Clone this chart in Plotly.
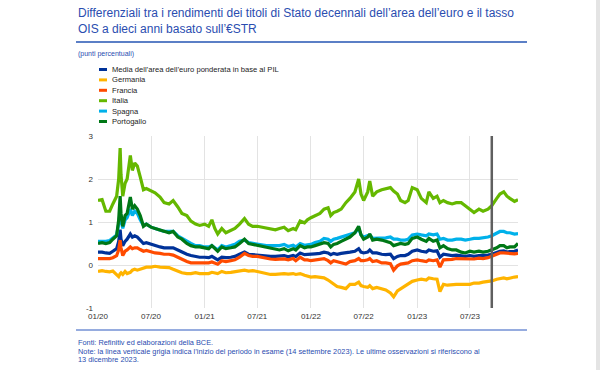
import plotly.graph_objects as go

dates = [
    "2020-01-01","2020-01-15","2020-01-28","2020-02-10","2020-02-21","2020-03-05","2020-03-12","2020-03-17",
    "2020-03-20","2020-03-26","2020-04-03","2020-04-10","2020-04-21","2020-04-28","2020-05-06","2020-05-15",
    "2020-05-25","2020-06-05","2020-06-15","2020-07-01","2020-07-15","2020-08-01","2020-08-15","2020-09-01",
    "2020-09-15","2020-10-01","2020-10-15","2020-11-01","2020-11-15","2020-12-01","2020-12-15",
    "2021-01-01","2021-01-15","2021-01-26","2021-02-05","2021-02-15","2021-03-01","2021-03-15","2021-04-01",
    "2021-04-15","2021-05-01","2021-05-18","2021-06-01","2021-06-15","2021-07-01","2021-07-15","2021-08-01",
    "2021-08-15","2021-09-01","2021-09-15","2021-10-01","2021-10-15","2021-11-01","2021-11-10","2021-11-25",
    "2021-12-10","2021-12-20",
    "2022-01-01","2022-01-15","2022-02-01","2022-02-15","2022-03-01","2022-03-10","2022-03-20","2022-04-01",
    "2022-04-15","2022-05-01","2022-05-15","2022-06-01","2022-06-14","2022-06-22","2022-07-01","2022-07-15",
    "2022-07-22","2022-08-01","2022-08-15","2022-09-01","2022-09-15","2022-10-01","2022-10-12","2022-10-25",
    "2022-11-05","2022-11-20","2022-12-01","2022-12-15",
    "2023-01-01","2023-01-15","2023-02-01","2023-02-10","2023-02-25","2023-03-10","2023-03-20","2023-04-01",
    "2023-04-15","2023-05-01","2023-05-15","2023-06-01","2023-06-15","2023-07-01","2023-07-15","2023-08-01",
    "2023-08-15","2023-09-01","2023-09-14","2023-10-01","2023-10-12","2023-10-25","2023-11-05","2023-11-15",
    "2023-12-01","2023-12-13",
]

italia = [
    1.50,1.52,1.25,1.25,1.42,1.60,2.00,2.72,2.10,1.60,1.90,2.00,2.55,2.20,2.37,2.30,
    2.05,1.75,1.78,1.72,1.68,1.58,1.45,1.42,1.50,1.35,1.20,1.15,1.02,0.95,0.92,
    0.95,0.90,1.05,0.85,0.72,0.85,0.75,0.80,0.85,0.95,1.08,0.95,0.90,0.90,0.88,0.87,
    0.85,0.82,0.85,0.88,0.80,0.85,0.82,1.02,0.98,1.05,
    1.10,1.15,1.20,1.30,1.33,1.15,1.22,1.25,1.30,1.45,1.55,1.70,2.00,1.65,1.50,1.70,
    1.95,1.60,1.70,1.75,1.78,1.80,1.72,1.65,1.50,1.45,1.50,1.80,
    1.75,1.55,1.45,1.70,1.55,1.60,1.45,1.50,1.45,1.42,1.45,1.45,1.38,1.30,1.22,1.30,
    1.25,1.30,1.38,1.55,1.65,1.70,1.60,1.55,1.48,1.52,
]
portogallo = [
    0.50,0.52,0.50,0.52,0.60,0.68,1.05,1.60,1.20,0.90,1.15,1.20,1.58,1.30,1.38,1.30,
    1.15,0.90,0.95,0.88,0.85,0.82,0.78,0.75,0.78,0.65,0.60,0.50,0.45,0.42,0.42,
    0.40,0.38,0.45,0.38,0.32,0.42,0.38,0.40,0.42,0.50,0.60,0.50,0.48,0.45,0.42,0.40,
    0.38,0.37,0.35,0.38,0.33,0.38,0.35,0.45,0.40,0.42,
    0.42,0.45,0.48,0.52,0.50,0.42,0.48,0.50,0.55,0.60,0.65,0.75,0.90,0.70,0.60,0.65,
    0.72,0.58,0.60,0.58,0.55,0.52,0.45,0.48,0.50,0.48,0.50,0.62,
    0.65,0.60,0.55,0.62,0.55,0.58,0.40,0.45,0.38,0.35,0.35,0.30,0.28,0.32,0.30,0.32,
    0.30,0.32,0.35,0.40,0.45,0.45,0.40,0.42,0.42,0.50,
]
spagna = [
    0.55,0.55,0.55,0.57,0.62,0.70,0.95,1.25,1.05,0.85,1.05,1.10,1.30,1.15,1.25,1.20,
    1.05,0.92,0.95,0.88,0.85,0.82,0.78,0.78,0.78,0.68,0.62,0.55,0.50,0.45,0.45,
    0.42,0.42,0.45,0.40,0.35,0.45,0.42,0.45,0.48,0.55,0.58,0.52,0.50,0.48,0.47,0.45,
    0.45,0.44,0.45,0.48,0.43,0.46,0.42,0.50,0.46,0.47,
    0.48,0.52,0.55,0.62,0.60,0.55,0.60,0.62,0.65,0.68,0.72,0.75,0.85,0.70,0.65,0.68,
    0.70,0.62,0.62,0.62,0.63,0.65,0.60,0.60,0.58,0.58,0.60,0.70,
    0.72,0.70,0.68,0.72,0.70,0.72,0.60,0.62,0.58,0.58,0.60,0.60,0.58,0.60,0.62,0.62,
    0.63,0.65,0.68,0.75,0.78,0.78,0.75,0.75,0.72,0.73,
]
media = [
    0.30,0.30,0.28,0.27,0.32,0.38,0.55,0.82,0.60,0.45,0.55,0.60,0.72,0.65,0.68,0.65,
    0.58,0.50,0.52,0.48,0.45,0.42,0.40,0.40,0.40,0.35,0.30,0.25,0.22,0.20,0.18,
    0.18,0.17,0.20,0.15,0.12,0.18,0.17,0.18,0.20,0.25,0.30,0.25,0.24,0.23,0.22,0.20,
    0.20,0.20,0.21,0.22,0.19,0.22,0.20,0.28,0.24,0.25,
    0.25,0.26,0.27,0.30,0.28,0.24,0.27,0.25,0.27,0.28,0.30,0.32,0.38,0.30,0.28,0.30,
    0.35,0.28,0.28,0.25,0.24,0.25,0.15,0.20,0.22,0.22,0.25,0.32,
    0.35,0.32,0.30,0.35,0.32,0.33,0.18,0.25,0.23,0.22,0.23,0.22,0.20,0.22,0.20,0.22,
    0.22,0.23,0.25,0.30,0.32,0.33,0.30,0.31,0.32,0.35,
]
francia = [
    0.15,0.15,0.14,0.15,0.17,0.22,0.35,0.58,0.40,0.22,0.32,0.35,0.42,0.38,0.40,0.40,
    0.36,0.32,0.34,0.30,0.28,0.27,0.25,0.25,0.23,0.18,0.13,0.08,0.05,0.05,0.04,
    0.05,0.05,0.07,0.05,0.02,0.10,0.08,0.10,0.12,0.18,0.27,0.22,0.20,0.20,0.18,0.15,
    0.14,0.13,0.13,0.14,0.12,0.15,0.10,0.18,0.12,0.12,
    0.10,0.12,0.14,0.15,0.10,0.05,0.10,0.08,0.05,0.02,0.08,0.10,0.15,0.10,0.10,0.12,
    0.15,0.08,0.10,0.05,0.05,0.03,-0.12,-0.02,0.02,0.03,0.05,0.10,
    0.12,0.10,0.08,0.12,0.10,0.12,-0.05,0.12,0.12,0.13,0.15,0.15,0.14,0.15,0.14,0.16,
    0.15,0.17,0.20,0.25,0.28,0.28,0.27,0.27,0.26,0.27,
]
germania = [
    -0.15,-0.13,-0.15,-0.16,-0.14,-0.22,-0.27,-0.20,-0.18,-0.22,-0.15,-0.20,-0.17,-0.12,-0.10,-0.12,
    -0.10,-0.07,-0.05,-0.05,-0.03,-0.05,-0.05,-0.06,-0.10,-0.15,-0.18,-0.20,-0.20,-0.18,-0.20,
    -0.20,-0.20,-0.17,-0.18,-0.20,-0.15,-0.18,-0.17,-0.16,-0.15,-0.12,-0.14,-0.13,-0.15,-0.17,-0.20,
    -0.22,-0.22,-0.21,-0.20,-0.21,-0.20,-0.22,-0.20,-0.24,-0.25,
    -0.28,-0.27,-0.28,-0.30,-0.35,-0.40,-0.45,-0.50,-0.52,-0.55,-0.45,-0.45,-0.40,-0.48,-0.50,-0.52,
    -0.48,-0.55,-0.52,-0.55,-0.58,-0.65,-0.74,-0.60,-0.55,-0.50,-0.45,-0.38,
    -0.35,-0.33,-0.35,-0.30,-0.32,-0.33,-0.62,-0.45,-0.47,-0.45,-0.45,-0.45,-0.45,-0.45,-0.42,-0.42,
    -0.40,-0.38,-0.37,-0.33,-0.32,-0.30,-0.32,-0.30,-0.28,-0.27,
]

series_names = [
    "Media dell\u2019area dell\u2019euro ponderata in base al PIL",
    "Germania", "Francia", "Italia", "Spagna", "Portogallo",
]
series_values = [media, germania, francia, italia, spagna, portogallo]
series_colors = ["#003299", "#FFB400", "#FF4B00", "#65B800", "#00B1EA", "#007816"]

x_tick_vals = ["2020-01-01","2020-07-01","2021-01-01","2021-07-01","2022-01-01","2022-07-01","2023-01-01","2023-07-01"]
x_tick_text = ["01/20","07/20","01/21","07/21","01/22","07/22","01/23","07/23"]
y_tick_vals = [-1, 0, 1, 2, 3]
y_tick_text = ["-1", "0", "1", "2", "3"]
review_start = "2023-09-14"

title_lines = [
    "Differenziali tra i rendimenti dei titoli di Stato decennali dell\u2019area dell\u2019euro e il tasso",
    "OIS a dieci anni basato sull\u2019\u20acSTR",
]
unit_text = "(punti percentuali)"
footer_lines = [
    "Fonti: Refinitiv ed elaborazioni della BCE.",
    "Note: la linea verticale grigia indica l\u2019inizio del periodo in esame (14 settembre 2023). Le ultime osservazioni si riferiscono al",
    "13 dicembre 2023.",
]

W, H = 600, 370
L, R, T, B = 98, 82, 136, 62
PW, PH = W - L - R, H - T - B
FONT = "Arial, Liberation Sans, sans-serif"


def px(x):
    return (x - L) / PW


def py(y):
    return (H - B - y) / PH


fig = go.Figure()
for name, vals, col in zip(series_names, series_values, series_colors):
    fig.add_trace(go.Scatter(x=dates, y=vals, mode="lines", name=name,
                             line=dict(color=col, width=3.2), showlegend=False))

shapes = []
annotations = []

# vertical line: start of review period
shapes.append(dict(type="line", xref="x", yref="y", x0=review_start, x1=review_start,
                   y0=-1, y1=3, line=dict(color="#5F5F5F", width=2.5)))

# title
for i, t in enumerate(title_lines):
    annotations.append(dict(text=t, xref="paper", yref="paper", x=px(76), y=py(13 + 16 * i),
                            xanchor="left", yanchor="middle", showarrow=False,
                            font=dict(family=FONT, size=12, color="#2A4DB0")))
shapes.append(dict(type="line", xref="paper", yref="paper", x0=px(76), x1=px(527),
                   y0=py(42), y1=py(42), line=dict(color="#5B7FC6", width=2)))
annotations.append(dict(text=unit_text, xref="paper", yref="paper", x=px(76), y=py(54),
                        xanchor="left", yanchor="middle", showarrow=False,
                        font=dict(family=FONT, size=7, color="#2A4DB0")))

# legend (manual)
for i, (name, col) in enumerate(zip(series_names, series_colors)):
    yy = 69.5 + 10.4 * i
    shapes.append(dict(type="line", xref="paper", yref="paper", x0=px(99), x1=px(107),
                       y0=py(yy), y1=py(yy), line=dict(color=col, width=3)))
    annotations.append(dict(text=name, xref="paper", yref="paper", x=px(110), y=py(yy),
                            xanchor="left", yanchor="middle", showarrow=False,
                            font=dict(family=FONT, size=7.6, color="#222222")))

# bottom rule & footer
shapes.append(dict(type="line", xref="paper", yref="paper", x0=px(76), x1=px(527),
                   y0=py(330), y1=py(330), line=dict(color="#2F5BC0", width=1.2)))
for i, t in enumerate(footer_lines):
    annotations.append(dict(text=t, xref="paper", yref="paper", x=px(76), y=py(342.5 + 8.7 * i),
                            xanchor="left", yanchor="middle", showarrow=False,
                            font=dict(family=FONT, size=7.35, color="#2A4DB0")))

# right-side grey border
shapes.append(dict(type="rect", xref="paper", yref="paper", x0=px(596), x1=px(601),
                   y0=py(371), y1=py(-1), fillcolor="#E4E4E4", line=dict(width=0), layer="below"))

fig.update_layout(
    width=W, height=H,
    margin=dict(l=L, r=R, t=T, b=B, pad=0),
    paper_bgcolor="white", plot_bgcolor="white",
    font=dict(family=FONT, size=8, color="#333333"),
    showlegend=False,
    shapes=shapes, annotations=annotations,
    xaxis=dict(range=["2020-01-01", "2023-12-13"], tickvals=x_tick_vals, ticktext=x_tick_text,
               showgrid=True, gridcolor="#E3E3E3", gridwidth=1, zeroline=False, showline=False,
               ticks="", ticklabelstandoff=2, tickfont=dict(size=8, color="#333333")),
    yaxis=dict(range=[-1, 3], tickvals=y_tick_vals, ticktext=y_tick_text,
               showgrid=True, gridcolor="#E3E3E3", gridwidth=1, zeroline=False, showline=False,
               ticks="", ticklabelstandoff=4, tickfont=dict(size=8, color="#333333")),
)

fig.write_html("out.html",
               config={"displayModeBar": False},
               post_script="document.body.style.margin='0';document.body.style.padding='0';")
